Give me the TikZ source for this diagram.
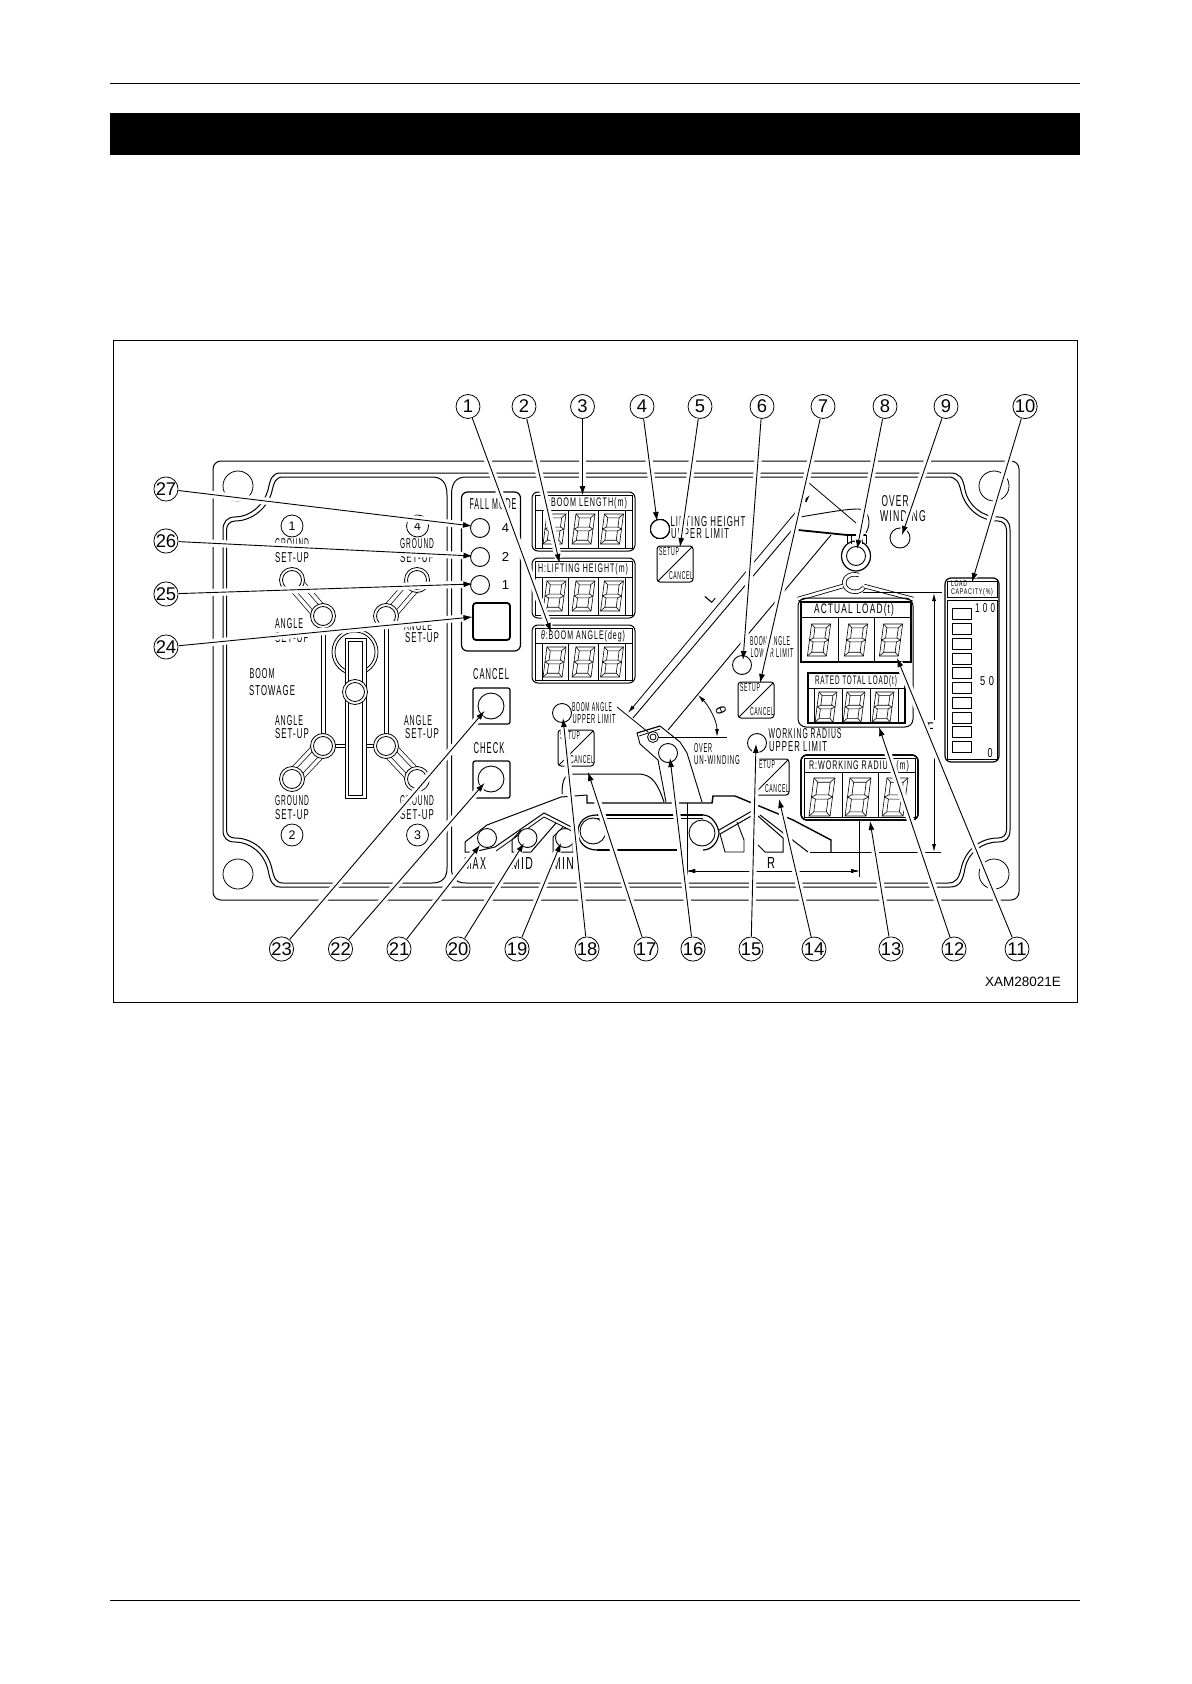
\documentclass[tikz,border=0pt]{standalone}
\usepackage{fontspec}
\usepackage{graphicx}
\setmainfont{Liberation Sans}
\newfontfamily\lsp[LetterSpace=14]{Liberation Sans}
\usetikzlibrary{arrows.meta}
\newdimen\pxu \pxu=0.5pt
\newcounter{lb}
\newcommand\lab[5]{\stepcounter{lb}\node[inner sep=0pt] (lb\thelb) at (#1,#2) {\resizebox{#3\pxu}{#4\pxu}{\lsp #5}};}
\newcommand\segd[4]{%
\begin{scope}[shift={(#1,#2)},xslant=0.13,line width=0.3pt]
\pgfmathsetmacro\wa{#3/2}\pgfmathsetmacro\ha{#4/2}\pgfmathsetmacro\tiq{#3*0.2}
\draw (-\wa,-\ha) rectangle (\wa,\ha);
\draw (-\wa+\tiq,-\ha+\tiq) rectangle (\wa-\tiq,-\tiq/2);
\draw (-\wa+\tiq,\tiq/2) rectangle (\wa-\tiq,\ha-\tiq);
\draw (-\wa,-\ha)--(-\wa+\tiq,-\ha+\tiq) (\wa,-\ha)--(\wa-\tiq,-\ha+\tiq)
 (-\wa,\ha)--(-\wa+\tiq,\ha-\tiq) (\wa,\ha)--(\wa-\tiq,\ha-\tiq)
 (-\wa+\tiq,-\tiq/2)--(-\wa,0)--(-\wa+\tiq,\tiq/2)
 (\wa-\tiq,-\tiq/2)--(\wa,0)--(\wa-\tiq,\tiq/2);
\end{scope}}
\newcommand\setbtn[2]{%
\draw[rounded corners=1.5pt,line width=0.5pt] (#1,#2) rectangle (#1+36,#2+36);
\draw[line width=0.45pt] (#1+1,#2+35) -- (#1+35,#2+1);
\lab{#1+12}{#2+5.5}{20}{8}{SETUP}
\lab{#1+24}{#2+30}{24}{8}{CANCEL}}
\newcommand\dispbox[3]{%
\draw[rounded corners=3pt,line width=0.5pt] (532,#1) rectangle (635,#3);
\draw[line width=0.4pt] (535,#1+3) rectangle (632,#3-3);
\draw[line width=0.4pt] (535,#2) -- (632,#2) (542,#2) -- (542,#3-3) (568.5,#2) -- (568.5,#3-3) (598.5,#2) -- (598.5,#3-3) (625,#2) -- (625,#3-3);}
\newcommand\linkd[2]{%
\draw[line width=8.5pt] #1 -- #2;
\draw[line width=7.8pt,white] #1 -- #2;
\draw[line width=4.2pt] #1 -- #2;
\draw[line width=3.5pt,white] #1 -- #2;}
\tikzset{
  lw/.style={line width=0.4pt},
  dbl/.style={double,double distance=1.4pt,line width=0.4pt},
  num/.style={circle,draw,fill=white,inner sep=0pt,minimum size=12pt,line width=0.4pt,font=\fontsize{9.2}{10}\selectfont},
  numsm/.style={circle,draw,fill=white,inner sep=0pt,minimum size=11pt,line width=0.4pt,font=\fontsize{6.2}{7}\selectfont},
  halo/.style={draw=white,line width=3.6pt,shorten >=2.5pt},
  leader/.style={draw=black,line width=0.45pt,-{Latex[length=4.5pt,width=3pt]}},
  lamp/.style={draw,line width=0.45pt,fill=white},
  dimtip/.style={line width=0.4pt,{Latex[length=4pt,width=2pt]}-{Latex[length=4pt,width=2pt]}},
}
\begin{document}
\begin{tikzpicture}[x=0.5pt,y=-0.5pt,lw]
\useasboundingbox (0,0) rectangle (1191,1684);
% page furniture
\draw[line width=0.6pt] (110,83.5) -- (1080,83.5);
\fill (110,113) rectangle (1080,155);
\draw[line width=0.6pt] (110,1600.5) -- (1080,1600.5);
\draw[line width=0.5pt] (113.5,341) rectangle (1077,1002);
% panel
\draw[rounded corners=4pt,line width=0.5pt] (213,461) rectangle (1019,900);
\foreach \bx/\by in {238/486,238/874,994/486,994/874} \draw[line width=0.4pt] (\bx,\by) circle[radius=15];
\draw[line width=0.5pt] (280,473) -- (950,473) .. controls (960,473) and (963,478) .. (965,490) .. controls (968,505) and (982,517) .. (998,517) .. controls (1006,517) and (1010,522) .. (1010,530) -- (1010,830) .. controls (1010,838) and (1006,842) .. (998,842) .. controls (982,842) and (968,853) .. (965,868) .. controls (963,880) and (960,887) .. (950,887) -- (280,887) .. controls (272,887) and (270,880) .. (268,870) .. controls (264,853) and (250,842) .. (235,842) .. controls (227,842) and (223,838) .. (223,830) -- (223,530) .. controls (223,522) and (227,517) .. (235,517) .. controls (250,517) and (264,505) .. (268,490) .. controls (270,480) and (272,473) .. (280,473) -- cycle;
\draw[line width=0.5pt] (283,477) -- (432,477) .. controls (442,477) and (447,483) .. (447,495) -- (447,868) .. controls (447,878) and (442,883) .. (432,883) -- (283,883) .. controls (276,883) and (274,878) .. (272,869) .. controls (268,850) and (252,838) .. (235,838) .. controls (230,838) and (226.5,835) .. (226.5,830) -- (226.5,530) .. controls (226.5,525) and (230,521) .. (235,521) .. controls (252,521) and (268,508) .. (272,491) .. controls (274,482) and (276,477) .. (283,477) -- cycle;
\draw[line width=0.5pt] (451.5,495) .. controls (451.5,483) and (456,477) .. (466,477) -- (948,477) .. controls (956,477) and (959,482) .. (961,491) .. controls (965,508) and (980,521) .. (998,521) .. controls (1003,521) and (1006.5,525) .. (1006.5,530) -- (1006.5,830) .. controls (1006.5,835) and (1003,838) .. (998,838) .. controls (980,838) and (965,850) .. (961,869) .. controls (959,878) and (956,883) .. (948,883) -- (466,883) .. controls (456,883) and (451.5,878) .. (451.5,868) -- cycle;
% boom stowage pattern
\draw[dbl] (323.5,616) -- (323.5,746);
\draw[dbl] (386.5,616) -- (386.5,746);
\draw[dbl,double distance=1.6pt] (323,616) -- (386,616);
\draw[dbl] (323,746) -- (345,746);
\draw[dbl] (366,746) -- (386,746);
\linkd{(292,580)}{(323,616)}
\linkd{(417,580)}{(386,616)}
\linkd{(292,779)}{(323,746)}
\linkd{(417,779)}{(386,746)}
\draw[line width=0.4pt] (355,652) circle[radius=23] (355,652) circle[radius=20];
\draw[fill=white,line width=0.45pt] (345,638) rectangle (366,798);
\draw[fill=white,line width=0.45pt] (348,641) rectangle (362,795);
\foreach \cx/\cy in {292/580,323/616,386/616,417/580,355/692,323/746,386/746,292/779,417/779}{
  \draw[fill=white,line width=0.4pt] (\cx,\cy) circle[radius=12.5];
  \draw[line width=0.4pt] (\cx,\cy) circle[radius=9.5];
}
\node[numsm] (c1) at (292,526) {1};
\node[numsm] (c4) at (417.5,526) {4};
\node[numsm] (c2) at (292,835) {2};
\node[numsm] (c3) at (417.5,835) {3};
\lab{292}{544}{34}{10}{GROUND}
\lab{292}{558}{34}{10}{SET-UP}
\lab{417}{544}{34}{10}{GROUND}
\lab{417}{558}{34}{10}{SET-UP}
\lab{289}{624}{28}{10}{ANGLE}
\lab{292}{638}{34}{10}{SET-UP}
\lab{418}{626}{28}{10}{ANGLE}
\lab{422}{638}{34}{10}{SET-UP}
\lab{289}{721}{28}{10}{ANGLE}
\lab{292}{734}{34}{10}{SET-UP}
\lab{418}{721}{28}{10}{ANGLE}
\lab{422}{734}{34}{10}{SET-UP}
\lab{292}{801}{34}{10}{GROUND}
\lab{292}{815}{34}{10}{SET-UP}
\lab{417}{801}{34}{10}{GROUND}
\lab{417}{815}{34}{10}{SET-UP}
\lab{262}{674}{25}{10}{BOOM}
\lab{272}{691}{46}{10}{STOWAGE}
% fall mode
\draw[rounded corners=3pt,line width=0.6pt] (461.5,492) rectangle (520.5,651);
\lab{493}{504}{47}{11}{FALL MODE}
\foreach \cy/\t in {528/4,557/2,585/1}{
  \draw[lamp] (480,\cy) circle[radius=9.5];
  \node[inner sep=0pt,font=\fontsize{6.5}{7}\selectfont] (fm\t) at (505.5,\cy) {\t};
}
\draw[rounded corners=1.5pt,line width=0.9pt] (473,603) rectangle (510,640);
\lab{491}{674}{36}{11}{CANCEL}
\draw[rounded corners=1pt,line width=0.6pt] (473,688) rectangle (510,724);
\draw[lamp] (491,706) circle[radius=13];
\lab{489}{748}{31}{11}{CHECK}
\draw[rounded corners=1pt,line width=0.6pt] (473,761) rectangle (510,798);
\draw[lamp] (491,779) circle[radius=13];
% left displays
\dispbox{492}{510}{551}
\dispbox{558}{577}{618}
\dispbox{625}{643}{683}
\lab{585}{503}{84}{9}{L:BOOM LENGTH(m)}
\lab{583}{569}{90}{9}{H:LIFTING HEIGHT(m)}
\lab{583}{636}{84}{9}{\textit{θ}:BOOM ANGLE(deg)}
\foreach \dy in {529,596,662} \foreach \dx in {554.5,583.5,612} \segd{\dx}{\dy}{19}{30}
% lifting height limit
\draw[lamp] (660,529) circle[radius=9.5];
\lab{708}{522}{75}{10}{LIFTING HEIGHT}
\lab{700}{534}{58}{10}{UPPER LIMIT}
\setbtn{657}{546}
% boom
\draw[line width=0.45pt] (633,718) -- (792,530);
\draw[line width=0.45pt] (668,730) -- (831,535);
\draw[dimtip] (628,713) -- (810,495);
\draw[line width=0.4pt] (617,707) -- (648,732);
\draw[line width=0.4pt] (809,483) -- (856,523);
\draw[line width=0.45pt] (800,517) .. controls (825,513) and (845,509) .. (858,509) .. controls (866,509) and (869,516) .. (869,522) .. controls (869,527) and (867,531) .. (866,533);
\draw[line width=0.9pt] (798,530) -- (847,535) -- (866,535);
\draw[line width=0.5pt] (847,535) -- (847,544) (866,535) -- (866,544) (851,535) -- (851,544) (862,535) -- (862,544);
\stepcounter{lb}\node[inner sep=0pt,rotate=50,font=\fontsize{7}{8}\selectfont] (lb\thelb) at (710,598) {L};
\draw[dimtip] (698,695) .. controls (708,705) and (717,720) .. (717,737);
\stepcounter{lb}\node[inner sep=0pt,rotate=-70,font=\fontsize{7}{8}\selectfont] (lb\thelb) at (721,710) {θ};
\draw[line width=0.4pt] (657,737) -- (727,737);
% pedestal
\draw[line width=0.6pt] (637,733) -- (660,726);
\draw[line width=0.4pt] (639,736) -- (660,729);
\draw[line width=0.45pt] (637,733) -- (640,744) -- (658,760) -- (666,802);
\draw[line width=0.45pt] (660,726) -- (680,742) -- (687,753) -- (702,802);
\draw[fill=white,line width=0.4pt] (653,737) circle[radius=5.5] (653,737) circle[radius=3];
\draw[lamp] (668,753) circle[radius=9.5];
\lab{703}{748}{18}{9}{OVER}
\lab{717}{760}{46}{9}{UN-WINDING}
% chassis
\draw[line width=0.5pt] (562,794) .. controls (562,780) and (565,774) .. (572,774) -- (638,774) .. controls (653,774) and (658,785) .. (664,802);
\draw[line width=0.7pt] (587,795) -- (587,803) -- (712,803) -- (713,796) -- (735,796) -- (793,820) -- (831,840) -- (831,852);
\draw[line width=0.5pt] (810,852) -- (941,852);
\draw[line width=0.5pt] (561,797) -- (587,795);
\draw[line width=0.5pt] (561,797) -- (487,825) -- (465,842) -- (465,852) -- (473,852) -- (495,847) -- (544,813) -- (571.5,827);
\draw[line width=0.4pt] (496,851) -- (544,817) -- (568,829);
\draw[line width=0.5pt] (521,830) -- (512,840) -- (512,852) -- (531,852) -- (556,823);
\draw[line width=0.5pt] (563,827) -- (553,837) -- (553,852) -- (573,852) -- (573,832);
\foreach \cx in {487,527.5,565} \draw[lamp] (\cx,838) circle[radius=9.5];
\lab{475}{863}{22}{12}{MAX}
\lab{522}{863}{22}{12}{MID}
\lab{563}{863}{22}{12}{MIN}
\draw[line width=0.7pt] (597,815) -- (703,815);
\draw[line width=0.4pt] (597,818) -- (703,818);
\draw[line width=0.7pt] (597,850) -- (677,850);
\draw[line width=0.6pt] (597,815) .. controls (585,815) and (578,822) .. (578,832) .. controls (578,842) and (585,850) .. (597,850);
\draw[line width=0.6pt] (703,815) .. controls (712,815) and (718,825) .. (719,833) .. controls (718,842) and (712,850) .. (703,850);
\draw[line width=0.45pt] (593,831) circle[radius=13];
\draw[line width=0.45pt] (702,833) circle[radius=13];
\draw[line width=0.5pt] (719,830) -- (752,811) (720,834) -- (753,815);
\draw[line width=0.45pt] (737,822) -- (744,840) -- (744,852) -- (725,852) -- (720,834);
\draw[line width=0.5pt] (758,816) -- (783,838) -- (783,852) -- (765,852) -- (758,845);
\draw[line width=0.5pt] (760,815) -- (808,852);
% boom angle limits
\draw[lamp] (742,665) circle[radius=9.5];
\lab{770}{641}{40}{9}{BOOM ANGLE}
\lab{772}{653}{43}{9}{LOWER LIMIT}
\setbtn{738}{682}
\draw[lamp] (562,713) circle[radius=9.5];
\lab{592}{707}{40}{9}{BOOM ANGLE}
\lab{594}{719}{43}{9}{UPPER LIMIT}
\setbtn{558}{730}
\draw[lamp] (757,743) circle[radius=9.5];
\lab{805}{734}{73}{10}{WORKING RADIUS}
\lab{798}{747}{58}{10}{UPPER LIMIT}
\setbtn{753}{759}
% hook
\draw[line width=0.6pt] (856,556) ellipse[x radius=14.5,y radius=15];
\draw[line width=0.45pt] (856,556) circle[radius=9.5];
\draw[dbl] (859,575) .. controls (848,572) and (842,580) .. (845,586) .. controls (848,593) and (860,594) .. (864,587);
\draw[dbl] (843,586) -- (798,599);
\draw[dbl] (864,586) -- (913,599);
\draw[line width=0.4pt] (863,592) -- (942,592);
% actual load
\draw[rounded corners=4pt,line width=0.5pt] (798,598) rectangle (913,727);
\draw[line width=0.6pt] (801,602) rectangle (911,662);
\draw[line width=0.4pt] (801,617) -- (911,617) (838,617) -- (838,662) (874,617) -- (874,662);
\lab{854}{610}{80}{10}{ACTUAL LOAD(t)}
\foreach \dx in {819,856,891} \segd{\dx}{640}{19}{32}
% rated
\draw[line width=0.6pt,fill=white] (808,673) rectangle (905,723);
\draw[line width=0.4pt] (808,688) -- (905,688) (814,688) -- (814,723) (842,688) -- (842,723) (870,688) -- (870,723) (898,688) -- (898,723);
\lab{856}{681}{82}{9}{RATED TOTAL LOAD(t)}
\foreach \dx in {826,854,883} \segd{\dx}{707}{18}{30}
% working radius
\draw[rounded corners=3pt,line width=0.6pt] (801,755) rectangle (918,820);
\draw[line width=0.45pt] (804,758) rectangle (915,817);
\draw[line width=0.4pt] (804,772) -- (915,772) (842,772) -- (842,817) (878,772) -- (878,817);
\lab{859}{766}{100}{9}{R:WORKING RADIUS (m)}
\foreach \dx in {822,858,895} \segd{\dx}{797}{21}{38}
% dimensions
\draw[dimtip] (687,871) -- (859,871);
\draw[line width=0.4pt] (687,803) -- (687,877) (859,820) -- (859,877);
\lab{771}{863}{8}{11}{R}
\draw[line width=0.4pt,{Latex[length=4pt,width=2pt]}-] (934,593) -- (934,720);
\draw[line width=0.4pt,-{Latex[length=4pt,width=2pt]}] (934,757) -- (934,852);
\stepcounter{lb}\node[inner sep=0pt,rotate=90,font=\fontsize{6}{7}\selectfont] (lb\thelb) at (929,726) {H};
% over winding
\lab{895}{501}{27}{11}{OVER}
\lab{903}{516}{46}{11}{WINDING}
\draw[lamp] (900,538) circle[radius=10];
% load capacity
\draw[rounded corners=3pt,line width=0.6pt] (945,578) rectangle (999,762);
\draw[line width=0.4pt] (947,581) rectangle (997,597);
\draw[line width=0.4pt] (947,600) rectangle (997,759);
\lab{959}{584}{16}{6}{LOAD}
\lab{972}{592}{42}{6}{CAPACITY(\%)}
\foreach \by in {608,623,638,653,667,682,697,712,726,741} \draw[line width=0.45pt] (952,\by) rectangle (971,\by+11);
\lab{985}{608}{20}{9}{1\kern4pt0\kern4pt0}
\lab{987}{681}{14}{9}{5\kern4pt0}
\lab{990}{753}{5}{9}{0}
\stepcounter{lb}\node[inner sep=0pt,font=\fontsize{6.75}{8}\selectfont] (lb\thelb) at (1023,982) {XAM28021E};
% call-outs
\foreach \n/\x/\y/\tx/\ty in {
 1/468/406.5/551/632, 2/524/406.5/559.5/563, 3/582.5/406.5/582.5/495, 4/642/406.5/657/521,
 5/700/406.5/680/547, 6/762/406.5/743/660, 7/823/406.5/760/683, 8/885/406.5/857/549,
 9/946/406.5/902/535, 10/1025/406.5/972/582, 11/1017/949/897/658, 12/954/949/879/727,
 13/891/949/870/821, 14/814/949/779/799, 15/751/949/756/744, 16/693/949/670/758,
 17/646/949/588/772, 18/587/949/563/718, 19/517/949/561/843, 20/458/949/524/843,
 21/399/949/480/845, 22/340.5/949/484.5/783, 23/281.5/949/484.5/711, 24/166/647/472.5/617,
 25/166/594/472.5/584, 26/166/541/472.5/556, 27/166/489/472/526}{
  \coordinate (t\n) at (\tx,\ty);
  \node[num] (n\n) at (\x,\y) {\n};
}
\foreach \n in {1,...,27} \path[halo] (n\n) -- (t\n);
\foreach \n in {1,...,27} \draw[leader] (n\n) -- (t\n);
\end{tikzpicture}
\end{document}
